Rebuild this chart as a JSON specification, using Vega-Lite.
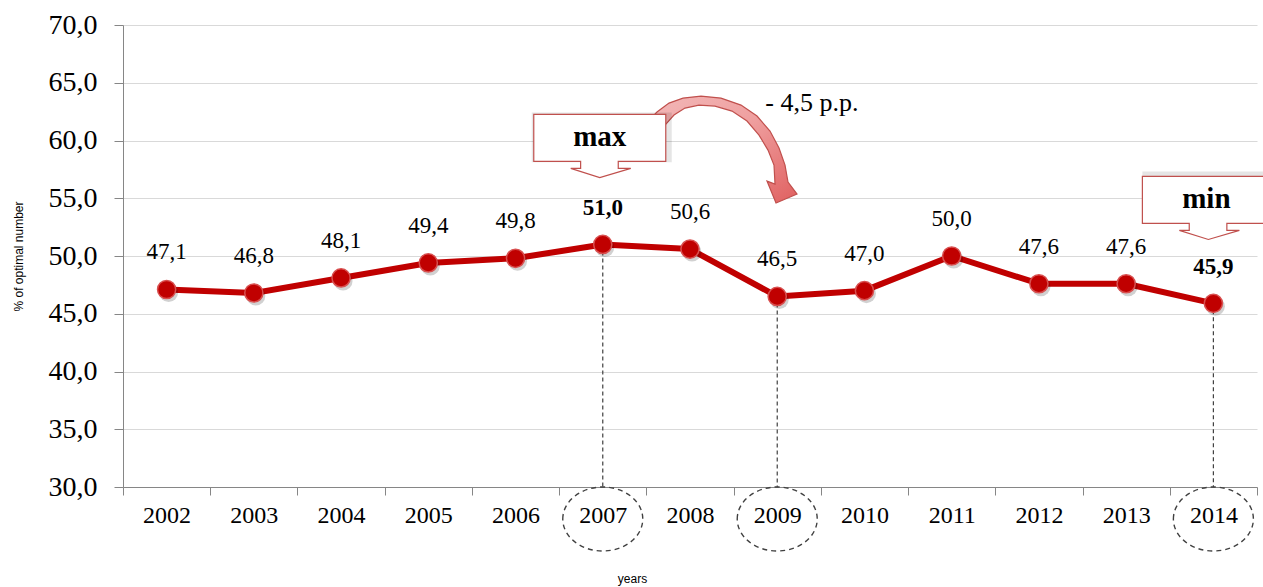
{
  "$schema": "https://vega.github.io/schema/vega-lite/v6.json",
  "autosize": {"type": "none"},
  "padding": {"left": 123, "top": 25, "right": 6, "bottom": 100},
  "width": 1134,
  "height": 462,
  "background": "white",
  "config": {
    "locale": {"number": {"decimal": ",", "thousands": ".", "grouping": [3], "currency": ["", ""]}},
    "view": {"stroke": null},
    "font": "Liberation Serif"
  },
  "data": {
    "values": [
      {"year": "2002", "value": 47.1},
      {"year": "2003", "value": 46.8},
      {"year": "2004", "value": 48.1},
      {"year": "2005", "value": 49.4},
      {"year": "2006", "value": 49.8},
      {"year": "2007", "value": 51.0},
      {"year": "2008", "value": 50.6},
      {"year": "2009", "value": 46.5},
      {"year": "2010", "value": 47.0},
      {"year": "2011", "value": 50.0},
      {"year": "2012", "value": 47.6},
      {"year": "2013", "value": 47.6},
      {"year": "2014", "value": 45.9}
    ]
  },
  "encoding": {
    "x": {
      "field": "year", "type": "ordinal",
      "scale": {"paddingInner": 0, "paddingOuter": 0},
      "axis": {
        "title": "years", "titleFont": "Liberation Sans", "titleFontSize": 12, "titleFontWeight": "normal",
        "titleColor": "#000", "titleX": 509, "titleY": 91, "titleAlign": "center", "titleBaseline": "middle",
        "labelFont": "Liberation Serif", "labelFontSize": 24, "labelColor": "#000", "labelAngle": 0,
        "labelPadding": 8, "tickBand": "extent", "tickSize": 8, "tickColor": "#868686",
        "domainColor": "#868686", "grid": false
      }
    },
    "y": {
      "field": "value", "type": "quantitative",
      "scale": {"domain": [30, 70], "nice": false, "zero": false},
      "axis": {
        "title": "% of optimal number", "titleFont": "Liberation Sans", "titleFontSize": 12, "titleFontWeight": "normal",
        "titleColor": "#000", "titleX": -105, "titleY": 231, "titleAlign": "center", "titleBaseline": "middle", "titleAngle": -90,
        "values": [30, 35, 40, 45, 50, 55, 60, 65, 70], "format": ".1f",
        "labelFont": "Liberation Serif", "labelFontSize": 28, "labelColor": "#000", "labelPadding": 17,
        "tickSize": 9, "tickColor": "#868686", "domainColor": "#868686",
        "grid": true, "gridColor": "#D9D9D9", "gridWidth": 1
      }
    }
  },
  "layer": [
    {
      "transform": [{"filter": {"field": "year", "oneOf": ["2007", "2009", "2014"]}}],
      "mark": {"type": "rule", "color": "#404040", "strokeDash": [4, 3], "strokeWidth": 1.2},
      "encoding": {"y2": {"datum": 30}}
    },
    {
      "transform": [{"filter": {"field": "year", "oneOf": ["2007", "2009", "2014"]}}],
      "mark": {
        "type": "point", "filled": false, "stroke": "#404040", "strokeDash": [5, 4], "strokeWidth": 1.4,
        "shape": "M-1,0 C-1,-0.4418 -0.5523,-0.8 0,-0.8 C0.5523,-0.8 1,-0.4418 1,0 C1,0.4418 0.5523,0.8 0,0.8 C-0.5523,0.8 -1,0.4418 -1,0 Z",
        "size": 6400, "yOffset": 32, "opacity": 1
      },
      "encoding": {"y": {"datum": 30, "type": "quantitative"}}
    },
    {
      "mark": {"type": "line", "color": "#C00000", "strokeWidth": 6, "strokeJoin": "round"}
    },
    {
      "mark": {"type": "point", "filled": true, "shape": "circle", "size": 360, "color": "#000", "opacity": 0.18, "xOffset": 2, "yOffset": 3}
    },
    {
      "mark": {"type": "point", "filled": true, "shape": "circle", "size": 330, "fill": "#C00000", "stroke": "#D85050", "strokeWidth": 1.5, "opacity": 1}
    },
    {
      "transform": [{"filter": {"not": {"field": "year", "oneOf": ["2007", "2014"]}}}],
      "mark": {"type": "text", "font": "Liberation Serif", "fontSize": 23, "color": "#000", "dy": -37, "baseline": "middle"},
      "encoding": {"text": {"field": "value", "type": "quantitative", "format": ".1f"}}
    },
    {
      "transform": [{"filter": {"field": "year", "oneOf": ["2007", "2014"]}}],
      "mark": {"type": "text", "font": "Liberation Serif", "fontSize": 23, "fontWeight": "bold", "color": "#000", "dy": -36, "baseline": "middle"},
      "encoding": {"text": {"field": "value", "type": "quantitative", "format": ".1f"}}
    },
    {
      "transform": [{"filter": {"field": "year", "equal": "2008"}}],
      "mark": {
        "type": "point", "filled": true,
        "shape": "M-0.95,-0.4 L-0.875,-0.475 L-0.725,-0.5875 L-0.55,-0.65 L-0.325,-0.675 L-0.075,-0.65 L0.175,-0.5625 L0.375,-0.425 L0.5375,-0.2375 L0.65,-0.025 L0.725,0.1875 L0.7625,0.4 L0.875,0.55 L0.6125,0.6625 L0.5,0.3875 L0.6,0.425 L0.5875,0.1875 L0.5125,0 L0.4,-0.1875 L0.25,-0.3625 L0.0625,-0.4875 L-0.15,-0.55 L-0.35,-0.5625 L-0.525,-0.525 L-0.6625,-0.4375 L-0.775,-0.3125 L-0.875,-0.1875 Z",
        "size": 25600, "xOffset": 37, "yOffset": -99, "opacity": 1,
        "fill": {"gradient": "linear", "x1": 0, "y1": 0, "x2": 1, "y2": 1, "stops": [{"offset": 0, "color": "#F2B8B8"}, {"offset": 0.45, "color": "#EFA0A0"}, {"offset": 1, "color": "#E06060"}]},
        "stroke": "#C0504D", "strokeWidth": 1.2
      }
    },
    {
      "transform": [{"filter": {"field": "year", "oneOf": ["2007", "2014"]}}],
      "mark": {
        "type": "point", "filled": true, "opacity": 0.1, "color": "#000",
        "shape": "M-1,-0.356 L1,-0.356 L1,0.356 L-1,0.356 Z",
        "size": 19600, "xOffset": -1, "yOffset": -107
      }
    },
    {
      "transform": [{"filter": {"field": "year", "equal": "2007"}}],
      "mark": {
        "type": "point", "filled": true, "opacity": 1,
        "shape": "M-1,-0.356 L1,-0.356 L1,0.356 L0.28,0.356 L0.28,0.462 L0.47,0.462 L0,0.6 L-0.44,0.462 L-0.29,0.462 L-0.29,0.356 L-1,0.356 Z",
        "size": 17424, "xOffset": -3, "yOffset": -106.5, "fill": "white", "stroke": "#C0504D", "strokeWidth": 1.2
      }
    },
    {
      "transform": [{"filter": {"field": "year", "equal": "2014"}}],
      "mark": {
        "type": "point", "filled": true, "opacity": 1,
        "shape": "M-1,-0.356 L1,-0.356 L1,0.356 L0.28,0.356 L0.28,0.462 L0.47,0.462 L0,0.6 L-0.44,0.462 L-0.29,0.462 L-0.29,0.356 L-1,0.356 Z",
        "size": 17424, "xOffset": -5, "yOffset": -103.5, "fill": "white", "stroke": "#C0504D", "strokeWidth": 1.2
      }
    },
    {
      "transform": [{"filter": {"field": "year", "equal": "2007"}}],
      "mark": {"type": "text", "text": "max", "font": "Liberation Serif", "fontSize": 29, "fontWeight": "bold", "color": "#000", "xOffset": -3, "yOffset": -107, "baseline": "middle"}
    },
    {
      "transform": [{"filter": {"field": "year", "equal": "2014"}}],
      "mark": {"type": "text", "text": "min", "font": "Liberation Serif", "fontSize": 29, "fontWeight": "bold", "color": "#000", "xOffset": -7, "yOffset": -104, "baseline": "middle"}
    },
    {
      "transform": [{"filter": {"field": "year", "equal": "2009"}}],
      "mark": {"type": "text", "text": "- 4,5 p.p.", "font": "Liberation Serif", "fontSize": 26, "color": "#000", "align": "left", "xOffset": -12, "yOffset": -193, "baseline": "middle"}
    }
  ]
}
